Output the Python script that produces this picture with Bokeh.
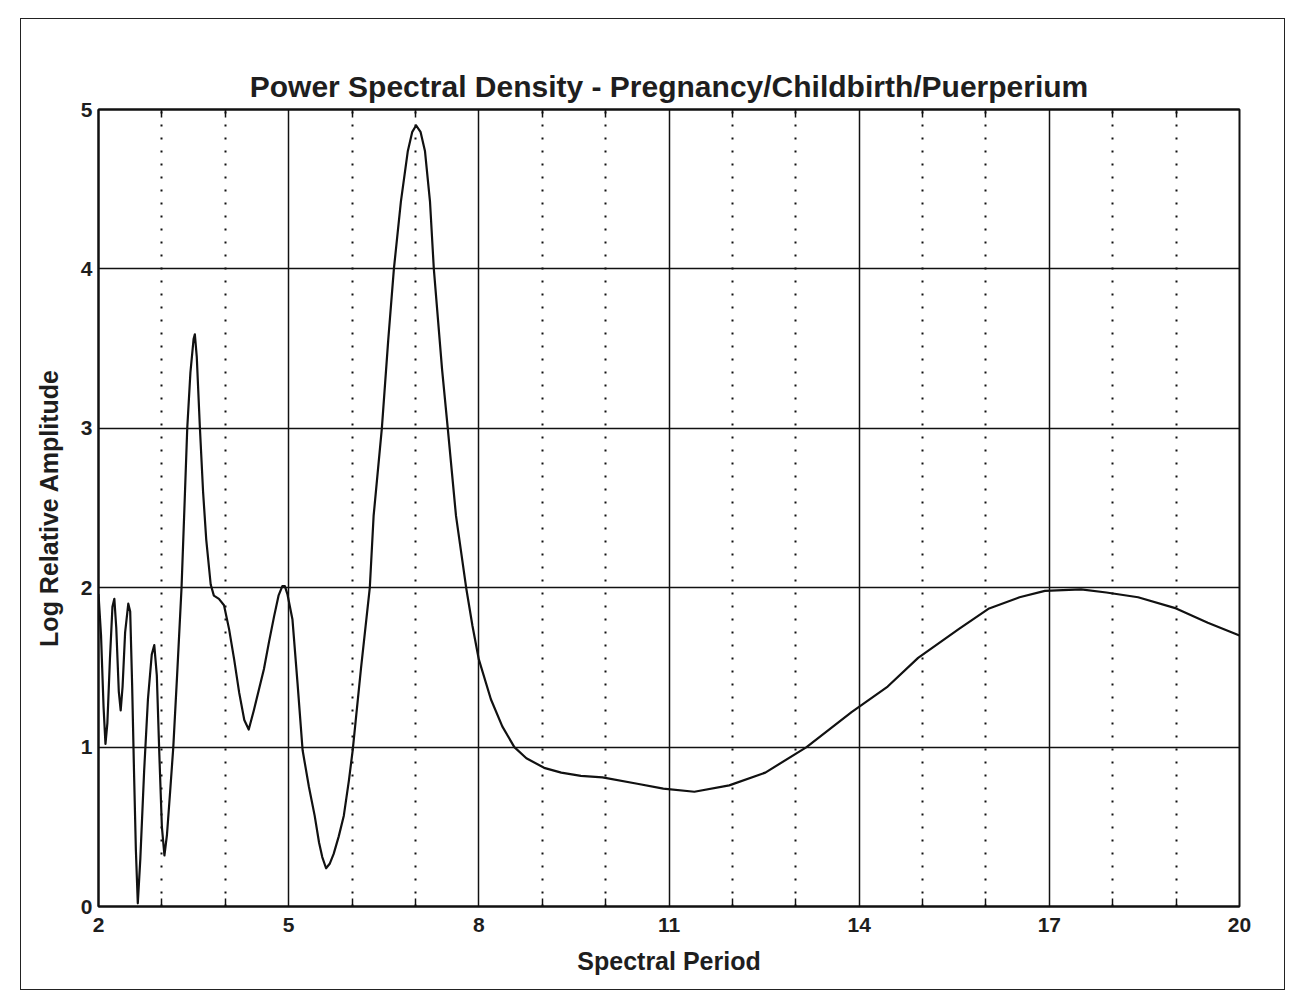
from bokeh.plotting import figure
from bokeh.models import FixedTicker, LinearAxis, Range1d
from bokeh.embed import file_html
from bokeh.resources import INLINE

# Spectral period (x) and log relative amplitude (y) of the PSD curve
period = [
    2.00, 2.04, 2.08, 2.11, 2.14, 2.18, 2.22, 2.25, 2.28, 2.32,
    2.35, 2.38, 2.42, 2.47, 2.50, 2.53, 2.56, 2.59, 2.62, 2.66,
    2.72, 2.78, 2.84, 2.88, 2.92, 2.96, 3.00, 3.04, 3.08, 3.13,
    3.18, 3.24, 3.31, 3.36, 3.40, 3.45, 3.50, 3.52, 3.55, 3.60,
    3.65, 3.70, 3.77, 3.82, 3.90, 3.98, 4.06, 4.14, 4.22, 4.30,
    4.37, 4.45, 4.53, 4.61, 4.69, 4.77, 4.84, 4.90, 4.94, 4.98,
    5.06, 5.14, 5.22, 5.32, 5.41, 5.48, 5.53, 5.59, 5.65, 5.71,
    5.79, 5.87, 5.95, 6.01, 6.14, 6.28, 6.34, 6.47, 6.57, 6.66,
    6.77, 6.88, 6.95, 7.01, 7.08, 7.15, 7.23, 7.29, 7.42, 7.51,
    7.64, 7.80, 7.90, 8.00, 8.19, 8.37, 8.56, 8.75, 9.03, 9.30,
    9.61, 9.95, 10.50, 10.91, 11.40, 11.95, 12.52, 13.17, 13.88, 14.45,
    14.93, 15.57, 16.05, 16.53, 16.93, 17.50, 17.90, 18.40, 19.00, 19.50,
    20.00,
]
log_amp = [
    1.96, 1.70, 1.25, 1.02, 1.15, 1.55, 1.88, 1.93, 1.75, 1.35,
    1.23, 1.38, 1.72, 1.90, 1.85, 1.40, 0.85, 0.35, 0.02, 0.30,
    0.85, 1.30, 1.58, 1.64, 1.45, 0.95, 0.50, 0.32, 0.45, 0.72,
    1.00, 1.45, 2.00, 2.55, 3.00, 3.35, 3.56, 3.59, 3.45, 3.00,
    2.60, 2.30, 2.02, 1.95, 1.93, 1.89, 1.74, 1.55, 1.34, 1.17,
    1.11, 1.23, 1.36, 1.49, 1.66, 1.82, 1.95, 2.01, 2.01, 1.96,
    1.80, 1.40, 0.98, 0.75, 0.57, 0.40, 0.31, 0.24, 0.27, 0.33,
    0.44, 0.57, 0.79, 0.98, 1.49, 2.00, 2.45, 3.00, 3.55, 4.00,
    4.42, 4.74, 4.86, 4.90, 4.86, 4.74, 4.42, 4.00, 3.37, 3.00,
    2.45, 2.00, 1.76, 1.55, 1.30, 1.13, 1.00, 0.93, 0.87, 0.84,
    0.82, 0.81, 0.77, 0.74, 0.72, 0.76, 0.84, 1.00, 1.22, 1.38,
    1.56, 1.74, 1.87, 1.94, 1.98, 1.99, 1.97, 1.94, 1.87, 1.78,
    1.70,
]

x_major = [2, 5, 8, 11, 14, 17, 20]
x_minor = [3, 4, 6, 7, 9, 10, 12, 13, 15, 16, 18, 19]
y_major = [0, 1, 2, 3, 4, 5]

FONT = "Liberation Sans"
INK = "#111111"
TEXT = "#1e1e1e"

p = figure(
    width=1265, height=972,
    x_range=Range1d(2, 20), y_range=Range1d(0, 5),
    output_backend="svg", toolbar_location=None,
    min_border_left=77, min_border_right=47,
    min_border_top=90, min_border_bottom=85,
    margin=(18, 0, 0, 20),
    title="Power Spectral Density - Pregnancy/Childbirth/Puerperium",
)
p.styles = {"border": "1px solid #222222"}
p.background_fill_color = "white"
p.border_fill_color = "white"
p.outline_line_color = INK
p.outline_line_width = 2

p.title.align = "center"
p.title.text_font = FONT
p.title.text_font_size = "30px"
p.title.text_font_style = "bold"
p.title.text_color = TEXT
p.title.standoff = 14

xt = FixedTicker(ticks=x_major, minor_ticks=x_minor)
yt = FixedTicker(ticks=y_major)

p.xaxis.ticker = xt
p.yaxis.ticker = yt

for ax in (p.xaxis[0], p.yaxis[0]):
    ax.axis_line_color = INK
    ax.axis_line_width = 2
    ax.major_tick_in = 0
    ax.major_tick_out = 0
    ax.minor_tick_in = 0
    ax.minor_tick_out = 0
    ax.major_label_text_font = FONT
    ax.major_label_text_font_size = "21px"
    ax.major_label_text_font_style = "bold"
    ax.major_label_text_color = TEXT
    ax.axis_label_text_font = FONT
    ax.axis_label_text_font_size = "25px"
    ax.axis_label_text_font_style = "bold"
    ax.axis_label_text_color = TEXT

p.xaxis.minor_tick_in = 8
p.xaxis.minor_tick_line_color = INK
p.xaxis.minor_tick_line_width = 1.5
p.xaxis.major_label_standoff = 11
p.xaxis.axis_label = "Spectral Period"
p.xaxis.axis_label_standoff = 12

p.yaxis.major_label_standoff = 6
p.yaxis.axis_label = "Log Relative Amplitude"
p.yaxis.axis_label_standoff = 15

# top axis carries only the small inward minor ticks
top = LinearAxis(ticker=FixedTicker(ticks=[], minor_ticks=x_minor))
top.axis_line_color = INK
top.axis_line_width = 2
top.major_tick_in = 0
top.major_tick_out = 0
top.minor_tick_in = 8
top.minor_tick_out = 0
top.minor_tick_line_color = INK
top.minor_tick_line_width = 1.5
top.major_label_standoff = 0
p.add_layout(top, "above")

# solid grid at labelled values, dotted grid at the integers between them
p.xgrid.grid_line_color = INK
p.xgrid.grid_line_width = 1.5
p.xgrid.minor_grid_line_color = INK
p.xgrid.minor_grid_line_width = 2
p.xgrid.minor_grid_line_dash = "2 11"
p.ygrid.grid_line_color = INK
p.ygrid.grid_line_width = 1.5

p.line(period, log_amp, line_color=INK, line_width=2.2, line_join="round")

open("out.html", "w").write(file_html(p, INLINE))
